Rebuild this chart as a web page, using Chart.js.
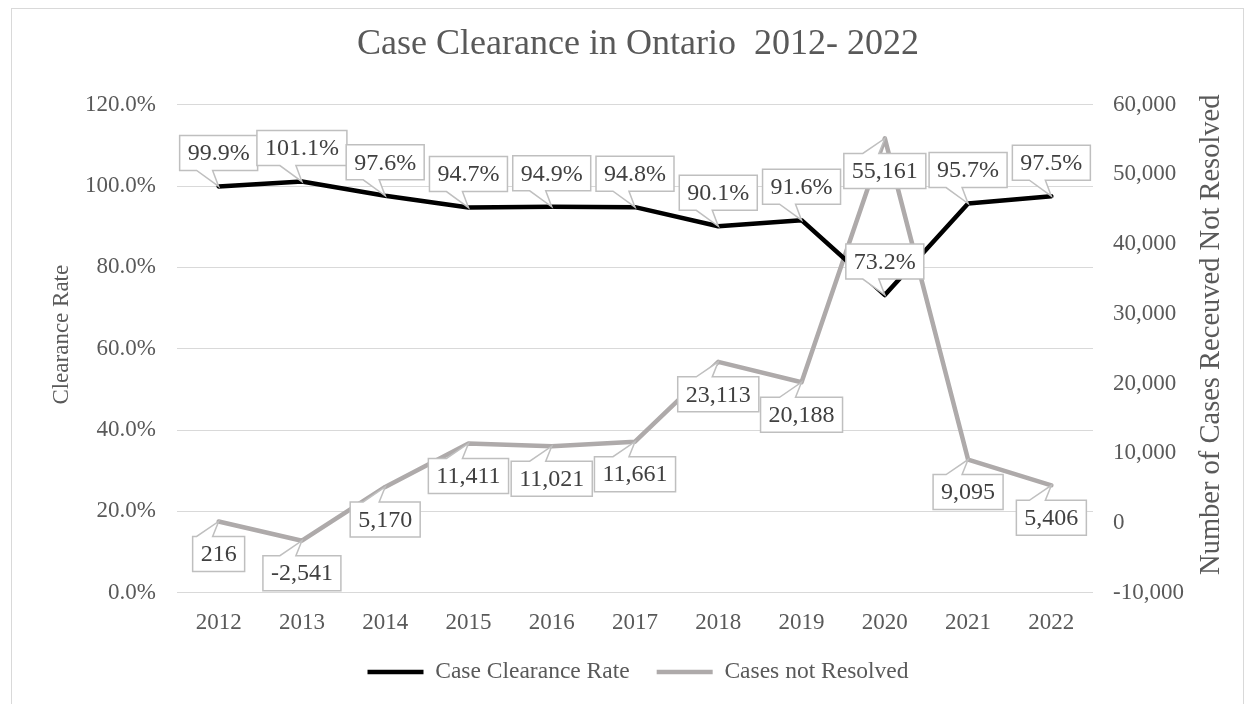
<!DOCTYPE html>
<html>
<head>
<meta charset="utf-8">
<title>Case Clearance in Ontario</title>
<script src="https://cdn.jsdelivr.net/npm/chart.js@4.4.0/dist/chart.umd.min.js"></script>
<style>
    body { margin: 0; background: #fff; }
    #frame { position: absolute; left: 11px; top: 8px; width: 1231px; height: 720px; border: 1px solid #d9d9d9; }
    #wrap { position: absolute; left: 0; top: 0; width: 1248px; height: 704px; }
</style>
</head>
<body>
<div id="frame"></div>
<div id="wrap"><canvas id="chart" width="1248" height="704"></canvas></div>
<script>
var years = ['2012', '2013', '2014', '2015', '2016', '2017', '2018', '2019', '2020', '2021', '2022'];
var clearanceRate = [99.9, 101.1, 97.6, 94.7, 94.9, 94.8, 90.1, 91.6, 73.2, 95.7, 97.5];
var casesNotResolved = [216, -2541, 5170, 11411, 11021, 11661, 23113, 20188, 55161, 9095, 5406];

var serif = "'Liberation Serif', 'Times New Roman', serif";
var grey = '#595959';

function fmtRate(v) { return v.toFixed(1) + '%'; }
function fmtCases(v) { return v.toLocaleString('en-US'); }

// boxed callout labels, like the excel ones
var calloutPlugin = {
    id: 'callouts',
    afterDatasetsDraw: function (chart, args, opts) {
        var ctx = chart.ctx;
        ctx.save();
        ctx.font = '24px ' + serif;
        ctx.textAlign = 'center';
        ctx.textBaseline = 'middle';
        chart.data.datasets.forEach(function (ds, di) {
            var meta = chart.getDatasetMeta(di);
            var below = opts.below[di];
            var fmt = di == 0 ? fmtRate : fmtCases;
            meta.data.forEach(function (pt, i) {
                var text = fmt(ds.data[i]);
                var w = ctx.measureText(text).width + 16;
                var h = 35;
                var cx = pt.x;
                var cy = below ? pt.y + 32.5 : pt.y - 33.5;
                var x0 = cx - w / 2, x1 = cx + w / 2, y0 = cy - h / 2, y1 = cy + h / 2;
                ctx.beginPath();
                if (below) {
                    ctx.moveTo(x0, y0);
                    ctx.lineTo(cx - 22, y0);
                    ctx.lineTo(pt.x, pt.y);
                    ctx.lineTo(cx - 6, y0);
                    ctx.lineTo(x1, y0);
                    ctx.lineTo(x1, y1);
                    ctx.lineTo(x0, y1);
                } else {
                    ctx.moveTo(x0, y0);
                    ctx.lineTo(x1, y0);
                    ctx.lineTo(x1, y1);
                    ctx.lineTo(cx - 6, y1);
                    ctx.lineTo(pt.x, pt.y);
                    ctx.lineTo(cx - 22, y1);
                    ctx.lineTo(x0, y1);
                }
                ctx.closePath();
                ctx.fillStyle = '#fff';
                ctx.fill();
                ctx.lineWidth = 1.5;
                ctx.strokeStyle = '#bfbfbf';
                ctx.stroke();
                ctx.fillStyle = '#404040';
                ctx.fillText(text, cx, cy + 1);
            });
        });
        ctx.restore();
    }
};

// both axis titles read bottom to top
var axisTitlePlugin = {
    id: 'axisTitles',
    afterDraw: function (chart) {
        var ctx = chart.ctx;
        var area = chart.chartArea;
        var cy = (area.top + area.bottom) / 2 - 14;
        ctx.save();
        ctx.fillStyle = grey;
        ctx.textAlign = 'center';
        ctx.textBaseline = 'middle';
        [[chart.scales.y.left + 34, 'Clearance Rate', 23],
         [chart.scales.y2.right - 36, 'Number of Cases Receuved Not Resolved', 28.5]].forEach(function (t) {
            ctx.save();
            ctx.font = t[2] + 'px ' + serif;
            ctx.translate(t[0], cy);
            ctx.rotate(-Math.PI / 2);
            ctx.fillText(t[1], 0, 0);
            ctx.restore();
        });
        ctx.restore();
    }
};

var ctx = document.getElementById('chart').getContext('2d');
var myChart = new Chart(ctx, {
    type: 'line',
    data: {
        labels: years,
        datasets: [{
            label: 'Case Clearance Rate',
            data: clearanceRate,
            yAxisID: 'y',
            borderColor: '#000000',
            backgroundColor: '#000000',
            borderWidth: 4.5,
            borderCapStyle: 'round',
            borderJoinStyle: 'round',
            pointRadius: 0,
            tension: 0
        }, {
            label: 'Cases not Resolved',
            data: casesNotResolved,
            yAxisID: 'y2',
            borderColor: '#aeaaaa',
            backgroundColor: '#aeaaaa',
            borderWidth: 4.5,
            borderCapStyle: 'round',
            borderJoinStyle: 'round',
            pointRadius: 0,
            tension: 0
        }]
    },
    options: {
        responsive: false,
        animation: false,
        devicePixelRatio: 1,
        layout: { padding: { left: 28, right: 0, top: 0, bottom: 10.25 } },
        plugins: {
            title: {
                display: true,
                text: 'Case Clearance in Ontario  2012- 2022',
                color: grey,
                font: { family: serif, size: 36, weight: 'normal' },
                padding: { top: 23.4, bottom: 38.1 }
            },
            legend: {
                position: 'bottom',
                labels: {
                    color: grey,
                    font: { family: serif, size: 23.5 },
                    usePointStyle: true,
                    pointStyle: 'line',
                    pointStyleWidth: 56,
                    padding: 27
                }
            },
            tooltip: { enabled: false },
            callouts: { below: [false, true] }
        },
        scales: {
            x: {
                offset: true,
                grid: { display: false, drawTicks: false },
                border: { display: false },
                ticks: { color: grey, font: { family: serif, size: 23 }, padding: 16, maxRotation: 0 },
                afterFit: function (s) { s.height = 704 - 592.7 - 10.25 - (23.5 + 27 + 10); }
            },
            y: {
                position: 'left',
                min: 0,
                max: 120,
                grid: { color: '#d9d9d9', lineWidth: 1, drawTicks: false },
                border: { display: false },
                ticks: { stepSize: 20, color: grey, font: { family: serif, size: 23 }, padding: 21, callback: function (v) { return fmtRate(v); } },
                afterFit: function (s) { s.width = 149; }
            },
            y2: {
                position: 'right',
                min: -10000,
                max: 60000,
                grid: { display: false, drawTicks: false },
                border: { display: false },
                ticks: { stepSize: 10000, color: grey, font: { family: serif, size: 23 }, padding: 20, callback: function (v) { return fmtCases(v); } },
                afterFit: function (s) { s.width = 155; }
            }
        }
    },
    plugins: [calloutPlugin, axisTitlePlugin]
});
</script>
</body>
</html>
